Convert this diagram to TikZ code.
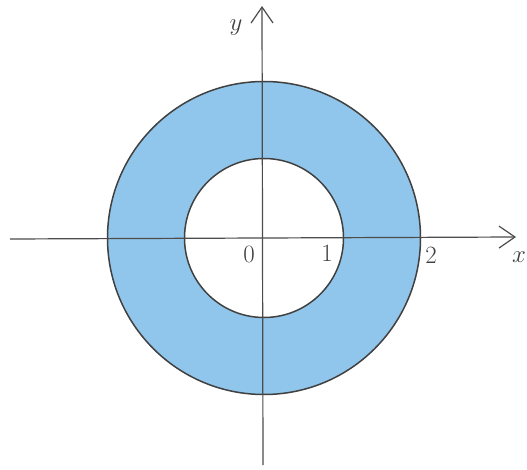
\documentclass[tikz,border=0pt]{standalone}
\usepackage{xcolor}
\usetikzlibrary{arrows.meta}
\definecolor{ringblue}{RGB}{145,198,236}

\begin{document}
\begin{tikzpicture}[x=1pt,y=-1pt,
    axis/.style={draw=black!70,line width=1.2pt},
    rim/.style={draw=black!75,line width=1.5pt},
    lbl/.style={font=\fontsize{26}{30}\selectfont\itshape,text=black!75},
    >={Straight Barb[length=16pt,width=22pt]}]
  \useasboundingbox (0,0) rectangle (527,470);
  % annulus
  \coordinate (c) at (264,238);
  \fill[ringblue,even odd rule] (c) circle[radius=156.5] (c) circle[radius=79.5];
  \draw[rim] (c) circle[radius=156.5];
  \draw[rim] (c) circle[radius=79.5];
  % axes
  \coordinate (xl) at (10,239);
  \coordinate (xr) at (516,237);
  \coordinate (yb) at (263,465);
  \coordinate (yt) at (262,6);
  \draw[axis,->] (xl) -- (xr);
  \draw[axis,->] (yb) -- (yt);
  % labels
  \node[lbl] (ylab) at (236,28) {$y$};
  \node[lbl] (xlab) at (519,257) {$x$};
  \node[lbl] (o) at (249,254) {$0$};
  \node[lbl] (one) at (327,253) {$1$};
  \node[lbl] (two) at (431,255) {$2$};
\end{tikzpicture}
\end{document}
